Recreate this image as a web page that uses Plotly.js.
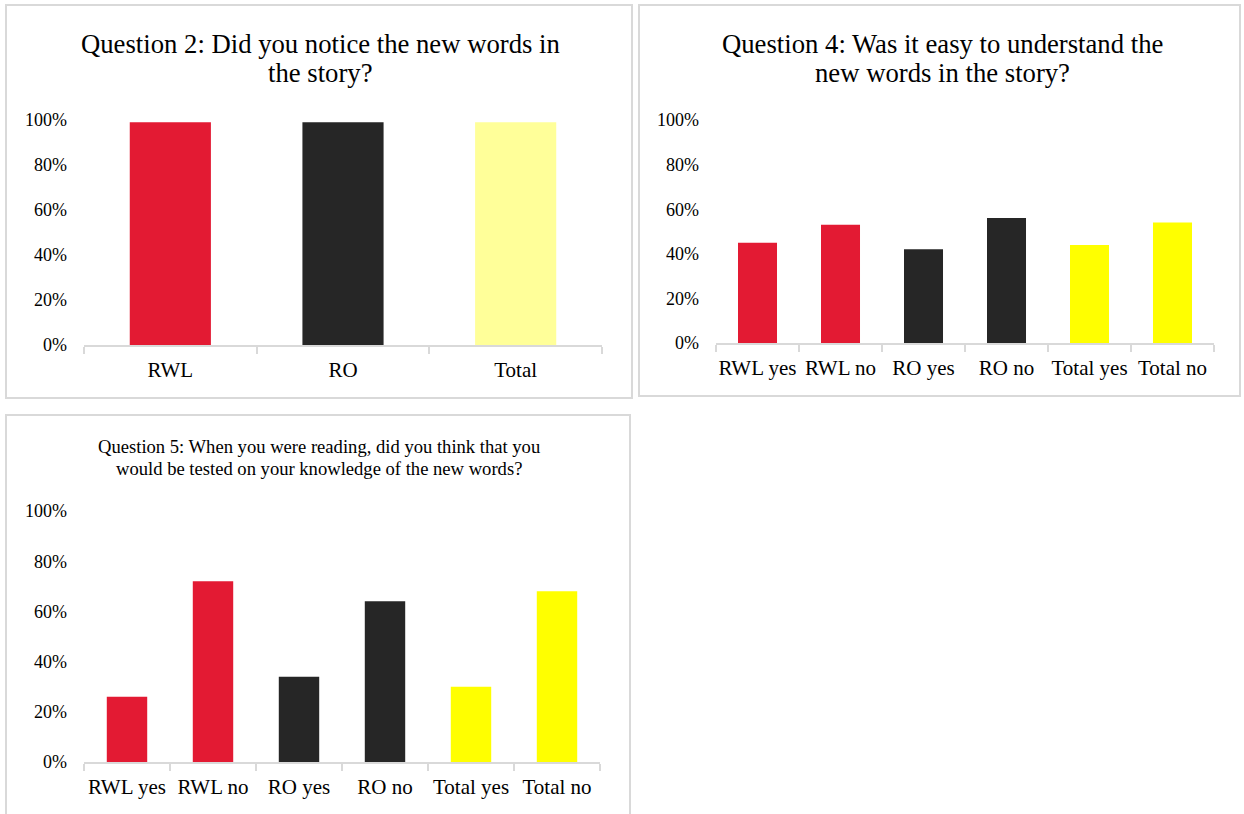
<!DOCTYPE html>
<html>
<head>
<meta charset="utf-8">
<script src="https://cdn.plot.ly/plotly-3.0.1.min.js"></script>
<style>
html,body{margin:0;padding:0;background:#fff;}
#chart{width:1244px;height:814px;}
</style>
</head>
<body>
<div id="chart"></div>
<script>
// ---- data ----
const q2Categories = ['RWL', 'RO', 'Total'];
const q2Values = [0.99, 0.99, 0.99];
const q2Colors = ['#E31A33', '#262626', '#FFFF99'];

const q45Categories = ['RWL yes', 'RWL no', 'RO yes', 'RO no', 'Total yes', 'Total no'];
const q4Values = [0.45, 0.53, 0.42, 0.56, 0.44, 0.54];
const q5Values = [0.26, 0.72, 0.34, 0.64, 0.30, 0.68];
const q45Colors = ['#E31A33', '#E31A33', '#262626', '#262626', '#FFFF00', '#FFFF00'];

const yTickVals = [0, 0.2, 0.4, 0.6, 0.8, 1.0];

// each title as its two printed lines
const q2Title = ['Question 2: Did you notice the new words in', 'the story?'];
const q4Title = ['Question 4: Was it easy to understand the', 'new words in the story?'];
const q5Title = ['Question 5: When you were reading, did you think that you', 'would be tested on your knowledge of the new words?'];

// ---- layout helpers ----
const W = 1244, H = 814;
const px = v => v / W;
const py = v => 1 - v / H;
const FONT = '"Liberation Serif", "Times New Roman", serif';
const GREY = '#D9D9D9';

function xAxis(l, r, anchor) {
  return {
    domain: [px(l), px(r)], anchor: anchor, type: 'category',
    showline: true, linecolor: GREY, linewidth: 2,
    ticks: 'outside', tickson: 'boundaries', ticklen: 7, tickcolor: GREY, tickwidth: 2,
    tickangle: 0, ticklabelstandoff: 5,
    showgrid: false, zeroline: false, fixedrange: true,
    tickfont: {family: FONT, size: 21, color: '#000'}
  };
}
function yAxis(bottom, top, anchor) {
  return {
    domain: [py(bottom), py(top)], anchor: anchor, range: [0, 1],
    tickvals: yTickVals, tickformat: '.0%',
    showline: false, showgrid: false, zeroline: false, ticks: '',
    ticklabelstandoff: 16, fixedrange: true,
    tickfont: {family: FONT, size: 18, color: '#000'}
  };
}
function border(x0, y0, x1, y1) {
  return {type: 'rect', xref: 'paper', yref: 'paper',
    x0: px(x0), x1: px(x1), y0: py(y1), y1: py(y0),
    line: {color: GREY, width: 2}, fillcolor: 'rgba(0,0,0,0)', layer: 'below'};
}
function titleLines(lines, cx, ys, size) {
  return lines.map((t, i) => ({text: t, xref: 'paper', yref: 'paper', x: px(cx), y: py(ys[i]),
    xanchor: 'center', yanchor: 'middle', showarrow: false, align: 'center',
    font: {family: FONT, size: size, color: '#000'}}));
}

const data = [
  {type: 'bar', x: q2Categories, y: q2Values, marker: {color: q2Colors}, xaxis: 'x', yaxis: 'y', hoverinfo: 'x+y'},
  {type: 'bar', x: q45Categories, y: q4Values, marker: {color: q45Colors}, xaxis: 'x2', yaxis: 'y2', hoverinfo: 'x+y'},
  {type: 'bar', x: q45Categories, y: q5Values, marker: {color: q45Colors}, xaxis: 'x3', yaxis: 'y3', hoverinfo: 'x+y'}
];

const layout = {
  width: W, height: H,
  margin: {l: 0, r: 0, t: 0, b: 0},
  paper_bgcolor: '#fff', plot_bgcolor: 'rgba(0,0,0,0)',
  showlegend: false, bargap: 0.53,
  font: {family: FONT, color: '#000'},
  xaxis: xAxis(84, 602, 'y'),
  yaxis: yAxis(345, 120, 'x'),
  xaxis2: xAxis(716, 1214, 'y2'),
  yaxis2: yAxis(343, 120, 'x2'),
  xaxis3: xAxis(84, 600, 'y3'),
  yaxis3: yAxis(762, 511, 'x3'),
  shapes: [
    border(6, 5, 632, 398),
    border(639, 5, 1240, 396),
    border(6, 415, 630, 830)
  ],
  annotations: [].concat(
    titleLines(q2Title, 320, [44, 73], 26.7),
    titleLines(q4Title, 942, [44, 73], 26.7),
    titleLines(q5Title, 319, [446, 468], 18.6)
  )
};

Plotly.newPlot('chart', data, layout, {displayModeBar: false, staticPlot: true});
</script>
</body>
</html>
